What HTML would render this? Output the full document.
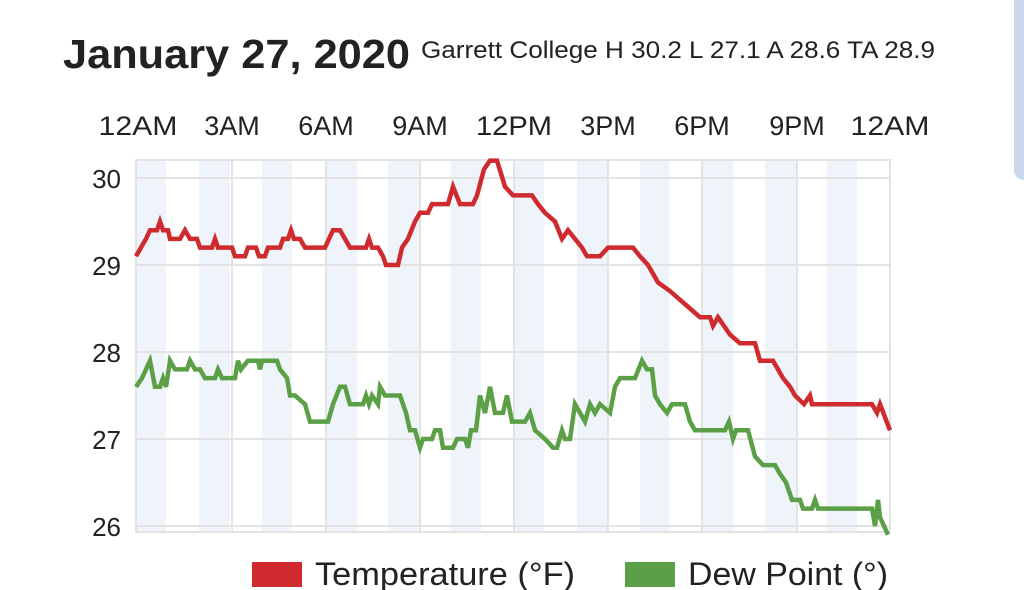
<!DOCTYPE html>
<html><head><meta charset="utf-8"><style>
html,body{margin:0;padding:0;background:#fff;width:1024px;height:590px;overflow:hidden}
svg{display:block}
text{font-family:"Liberation Sans",sans-serif;fill:#222}
</style></head><body>
<svg width="1024" height="590" viewBox="0 0 1024 590">
<rect x="1014" y="-20" width="40" height="200" rx="10" fill="#c9d9ea"/>
<text x="63" y="68" font-size="41" font-weight="bold" textLength="347" lengthAdjust="spacingAndGlyphs">January 27, 2020</text>
<text x="421" y="58" font-size="24" textLength="514" lengthAdjust="spacingAndGlyphs">Garrett College H 30.2 L 27.1 A 28.6 TA 28.9</text>
<g font-size="27" text-anchor="middle" fill="#111">
<text x="138" y="135" textLength="79" lengthAdjust="spacingAndGlyphs">12AM</text><text x="232" y="135">3AM</text><text x="326" y="135">6AM</text><text x="420" y="135">9AM</text><text x="514" y="135" textLength="76" lengthAdjust="spacingAndGlyphs">12PM</text><text x="608" y="135">3PM</text><text x="702" y="135">6PM</text><text x="797" y="135">9PM</text><text x="890" y="135" textLength="79" lengthAdjust="spacingAndGlyphs">12AM</text>
</g>
<g fill="#eef4fa">
<rect x="137" y="160" width="29" height="372"/><rect x="199" y="160" width="31" height="372"/><rect x="262" y="160" width="30" height="372"/><rect x="326" y="160" width="31" height="372"/><rect x="388" y="160" width="31" height="372"/><rect x="451" y="160" width="30" height="372"/><rect x="515" y="160" width="29" height="372"/><rect x="577" y="160" width="30" height="372"/><rect x="640" y="160" width="29" height="372"/><rect x="703" y="160" width="30" height="372"/><rect x="765" y="160" width="31" height="372"/><rect x="827" y="160" width="30" height="372"/>
</g>
<g stroke="#e3e3e3" stroke-width="2" fill="none">
<rect x="136" y="160" width="754" height="372"/>
<line x1="136" y1="178" x2="890" y2="178"/><line x1="136" y1="265" x2="890" y2="265"/><line x1="136" y1="352" x2="890" y2="352"/><line x1="136" y1="439" x2="890" y2="439"/><line x1="136" y1="526" x2="890" y2="526"/>
<line x1="232" y1="160" x2="232" y2="532"/><line x1="326" y1="160" x2="326" y2="532"/><line x1="420" y1="160" x2="420" y2="532"/><line x1="514" y1="160" x2="514" y2="532"/><line x1="608" y1="160" x2="608" y2="532"/><line x1="702" y1="160" x2="702" y2="532"/><line x1="797" y1="160" x2="797" y2="532"/>
</g>
<g font-size="26" text-anchor="end" fill="#111">
<text x="121" y="188">30</text><text x="121" y="275">29</text><text x="121" y="362">28</text><text x="121" y="449">27</text><text x="121" y="536">26</text>
</g>
<g transform="matrix(1,0,0,-87,0,2788)" fill="none" stroke-width="4.5" stroke-linejoin="miter">
<polyline vector-effect="non-scaling-stroke" stroke="#cf2a2e" points="136,29.1 146,29.3 150,29.4 157,29.4 160,29.5 163,29.4 168,29.4 170,29.3 180,29.3 185,29.4 190,29.3 197,29.3 200,29.2 212,29.2 215,29.3 218,29.2 232,29.2 235,29.1 245,29.1 248,29.2 256,29.2 259,29.1 265,29.1 268,29.2 280,29.2 283,29.3 288,29.3 291,29.4 294,29.3 300,29.3 305,29.2 325,29.2 333,29.4 340,29.4 345,29.3 350,29.2 366,29.2 369,29.3 372,29.2 378,29.2 383,29.1 386,29.0 398,29.0 402,29.2 408,29.3 415,29.5 420,29.6 428,29.6 432,29.7 448,29.7 453,29.9 460,29.7 473,29.7 477,29.8 484,30.1 490,30.2 497,30.2 505,29.9 513,29.8 532,29.8 538,29.7 545,29.6 555,29.5 562,29.3 568,29.4 582,29.2 587,29.1 600,29.1 608,29.2 633,29.2 640,29.1 648,29.0 658,28.8 670,28.7 680,28.6 690,28.5 700,28.4 710,28.4 713,28.3 718,28.4 730,28.2 740,28.1 755,28.1 760,27.9 773,27.9 783,27.7 790,27.6 795,27.5 804,27.4 810,27.5 812,27.4 818,27.4 872,27.4 877,27.3 880,27.4 890,27.1"/>
<polyline vector-effect="non-scaling-stroke" stroke="#5ba047" points="136,27.6 142,27.7 150,27.9 155,27.6 160,27.6 163,27.7 166,27.6 170,27.9 175,27.8 187,27.8 190,27.9 195,27.8 200,27.8 205,27.7 215,27.7 218,27.8 222,27.7 235,27.7 238,27.9 241,27.8 248,27.9 258,27.9 260,27.8 262,27.9 277,27.9 280,27.8 287,27.7 290,27.5 295,27.5 305,27.4 310,27.2 328,27.2 333,27.4 340,27.6 345,27.6 350,27.4 363,27.4 366,27.5 369,27.4 372,27.5 378,27.4 380,27.6 385,27.5 400,27.5 406,27.3 410,27.1 415,27.1 420,26.9 423,27.0 432,27.0 435,27.1 440,27.1 443,26.9 453,26.9 457,27.0 465,27.0 468,26.9 471,27.1 476,27.1 480,27.5 485,27.3 490,27.6 495,27.3 503,27.3 507,27.5 512,27.2 525,27.2 530,27.3 535,27.1 545,27.0 553,26.9 557,26.9 562,27.1 565,27.0 570,27.0 575,27.4 580,27.3 585,27.2 590,27.4 595,27.3 600,27.4 610,27.3 615,27.6 620,27.7 635,27.7 642,27.9 647,27.8 652,27.8 655,27.5 660,27.4 667,27.3 672,27.4 685,27.4 690,27.2 695,27.1 725,27.1 729,27.2 733,27.0 736,27.1 748,27.1 755,26.8 763,26.7 775,26.7 780,26.6 786,26.5 792,26.3 800,26.3 803,26.2 812,26.2 815,26.3 818,26.2 872,26.2 875,26.0 878,26.3 880,26.1 888,25.9"/>
</g>
<rect x="252" y="562" width="50" height="25" fill="#cf2a2e"/>
<text x="315" y="585" font-size="32" fill="#333" textLength="260" lengthAdjust="spacingAndGlyphs">Temperature (°F)</text>
<rect x="625" y="562" width="50" height="25" fill="#5ba047"/>
<text x="688" y="585" font-size="32" fill="#333" textLength="200" lengthAdjust="spacingAndGlyphs">Dew Point (°)</text>
</svg>
</body></html>
